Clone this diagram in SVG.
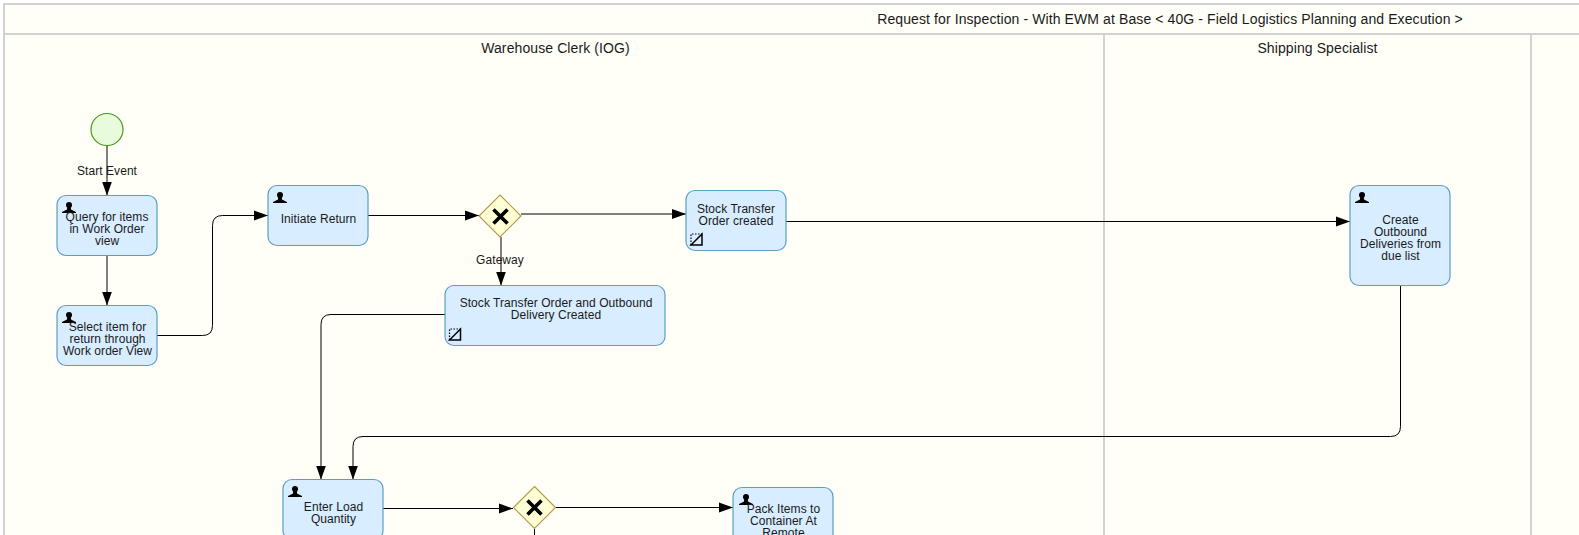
<svg xmlns="http://www.w3.org/2000/svg" width="1579" height="535" viewBox="0 0 1579 535">
<style>
text{font-family:"Liberation Sans",Arial,sans-serif;font-size:12px;fill:#1a1a1a;text-anchor:middle;letter-spacing:.06px}
.h{font-size:14px;letter-spacing:.1px}
.lane{stroke:#d2d2d2;stroke-width:2;fill:none}
.task{fill:#d8edff;stroke:#5a9fc5;stroke-width:1.2}
.gw{fill:#ffffd6;stroke:#b8994f;stroke-width:1.2}
.x{stroke:#000;stroke-width:3.600;fill:none}
.c{stroke:#000;stroke-width:1;fill:none;marker-end:url(#a)}
.n{stroke:#000;stroke-width:1;fill:none}
</style>
<defs>
<marker id="a" markerUnits="userSpaceOnUse" markerWidth="14" markerHeight="11" refX="14" refY="5.500" orient="auto"><path d="M0 .5L14 5.500L0 10.500Z" fill="#000"/></marker>
<g id="u"><circle cx="0" cy="-2.500" r="3" fill="#000"/><path d="M-1.800 -1L1.800 -1L2 2L7 4.500L7 5.500L-7 5.500L-7 4.500L-2 2Z" fill="#000"/></g>
<g id="m"><path d="M0 11L11 0V11Z" fill="none" stroke="#000" stroke-width="1.500"/><path d="M0 11V0H11" fill="none" stroke="#000" stroke-width="1.200" stroke-dasharray="1.500 1.500"/></g>
</defs>
<rect width="1579" height="535" fill="#fff"/>
<rect x="4" y="4" width="1580" height="540" fill="#fffff8"/>
<g id="lanes">
<path class="lane" d="M1579 4H4V535M4 34H1579M1104 34V535M1531 34V535"/>
<text class="h" x="1170" y="24">Request for Inspection - With EWM at Base &lt; 40G - Field Logistics Planning and Execution &gt;</text>
<text class="h" x="555.500" y="53">Warehouse Clerk (IOG)</text>
<text class="h" x="1317.500" y="53">Shipping Specialist</text>
</g>
<g id="connectors">
<path class="c" d="M107 146V195.500"/>
<path class="c" d="M107 255.500V305.500"/>
<path class="c" d="M157 335.500H202.500Q212.500 335.500 212.500 325.500V225.500Q212.500 215.500 222.500 215.500H268"/>
<path class="c" d="M368 215.500H479"/>
<path class="c" d="M521 214H686"/>
<path class="c" d="M501 237V285.500"/>
<path class="c" d="M445 314.500H331Q321 314.500 321 324.500V479.500"/>
<path class="c" d="M786 221.500H1350"/>
<path class="c" d="M1400.500 285V426.500Q1400.500 436.500 1390.500 436.500H363Q353 436.500 353 446.500V479.500"/>
<path class="c" d="M383 508.500H513"/>
<path class="c" d="M555 507.500H733"/>
<path class="n" d="M534.500 529V535"/>
</g>
<g id="start"><circle cx="107" cy="129.500" r="16" fill="#e8fbdc" stroke="#4a9a1c" stroke-width="1.200"/><text x="107" y="175">Start Event</text></g>
<g id="query"><rect class="task" x="57" y="195.500" width="100" height="60" rx="9"/><use href="#u" x="69" y="207.500"/><text x="107" y="221">Query for items</text><text x="107" y="233">in Work Order</text><text x="107" y="245">view</text></g>
<g id="select"><rect class="task" x="57" y="305.500" width="100" height="60" rx="9"/><use href="#u" x="69" y="317.500"/><text x="107.500" y="331">Select item for</text><text x="107.500" y="343">return through</text><text x="107.500" y="355">Work order View</text></g>
<g id="initiate"><rect class="task" x="268" y="185.500" width="100" height="60" rx="9"/><use href="#u" x="280" y="197.500"/><text x="318.500" y="223">Initiate Return</text></g>
<g id="gw1"><path class="gw" d="M500 195L521 216L500 237L479 216Z"/><path class="x" d="M493.500 209.500L507.500 223.500M507.500 209.500L493.500 223.500"/><text x="500" y="264">Gateway</text></g>
<g id="sto"><rect class="task" x="686" y="190.500" width="100" height="60" rx="9"/><use href="#m" x="691" y="234"/><text x="736" y="213">Stock Transfer</text><text x="736" y="225">Order created</text></g>
<g id="stood"><rect class="task" x="445" y="285.500" width="220" height="60" rx="9"/><use href="#m" x="449.500" y="329"/><text x="556" y="307">Stock Transfer Order and Outbound</text><text x="556" y="319">Delivery Created</text></g>
<g id="create"><rect class="task" x="1350" y="185.500" width="100" height="100" rx="9"/><use href="#u" x="1362" y="197.500"/><text x="1400.500" y="224">Create</text><text x="1400.500" y="236">Outbound</text><text x="1400.500" y="248">Deliveries from</text><text x="1400.500" y="260">due list</text></g>
<g id="enter"><rect class="task" x="283" y="479.500" width="100" height="60" rx="9"/><use href="#u" x="295" y="491.500"/><text x="333.500" y="511">Enter Load</text><text x="333.500" y="523">Quantity</text></g>
<g id="gw2"><path class="gw" d="M534.500 486.500L555.500 507.500L534.500 528.500L513.500 507.500Z"/><path class="x" d="M527.500 500.500L541.500 514.500M541.500 500.500L527.500 514.500"/></g>
<g id="pack"><rect class="task" x="733" y="487.500" width="100" height="60" rx="9"/><use href="#u" x="746" y="499.500"/><text x="783.500" y="513">Pack Items to</text><text x="783.500" y="525">Container At</text><text x="783.500" y="537">Remote</text></g>
</svg>
